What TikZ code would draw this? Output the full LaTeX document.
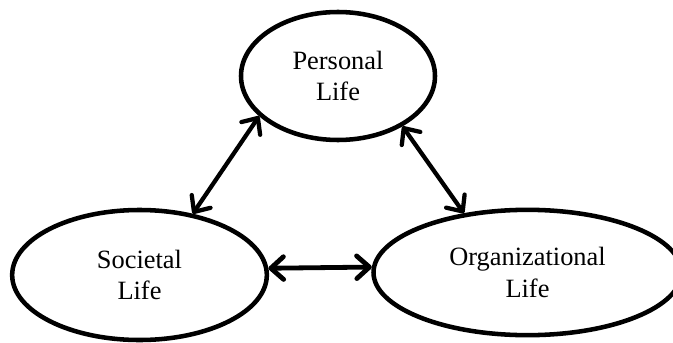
\documentclass[tikz,border=0pt]{standalone}
\usepackage{fontspec}
\setmainfont{Liberation Serif}
\usetikzlibrary{arrows.meta,shapes.geometric}

\begin{document}
\begin{tikzpicture}[x=0.75pt, y=-0.75pt,
        lifebox/.style={ellipse, draw=black, line width=3.4pt, inner sep=0pt, align=center,
                        font=\fontsize{19.8}{23.5}\selectfont},
        arr/.style={{Straight Barb[round,length=9.5pt,width=17pt]}-{Straight Barb[round,length=9.5pt,width=17pt]},
                    line width=3.2pt}
      ]
        \useasboundingbox (0,0) rectangle (673,342);

        \node[lifebox, minimum width=145.5pt, minimum height=96pt] (personal) at (338,76)  {Personal\\Life};
        \node[lifebox, minimum width=191pt,   minimum height=97.5pt] (societal) at (139.5,275) {Societal\\Life};
        \node[lifebox, minimum width=231pt,   minimum height=94pt] (organizational) at (527.5,272.5) {Organizational\\Life};

        \draw[arr] (personal.207) -- (societal.49);
        \draw[arr] (personal.322) -- (organizational.137);
        \draw[arr, line width=3.6pt] (societal.3) -- (organizational.178);
      \end{tikzpicture}
\end{document}
